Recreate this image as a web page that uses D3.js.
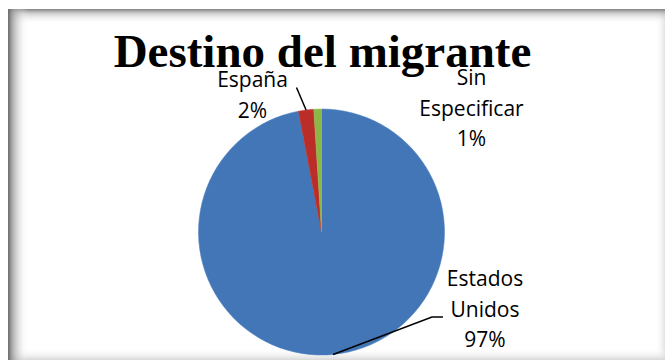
<!DOCTYPE html>
<html>
<head>
<meta charset="utf-8">
<script src="https://cdn.jsdelivr.net/npm/d3@7"></script>
<style>
  html, body { margin: 0; padding: 0; background: #ffffff; }
  svg { display: block; }
</style>
</head>
<body>
<svg id="chart" width="665" height="360"></svg>
<script>
// ---- data ----
const title = "Destino del migrante";
const categories = ["Estados Unidos", "España", "Sin Especificar"];
const values = [97, 2, 1];
const labelLines = [["Estados", "Unidos"], ["España"], ["Sin", "Especificar"]];
const colors = ["#4F8AD6", "#DC3530", "#A6D455"];

// ---- layout ----
const W = 665, H = 360;
const cx = 321.5, cy = 232, R = 123;
// label anchor (center x, first baseline y) per category
const labelPos = [[485, 286], [252.5, 87], [471.5, 85]];
const lineGap = 30.5;

const svg = d3.select("#chart");
const defs = svg.append("defs");

svg.append("rect").attr("x", 0).attr("y", 0).attr("width", W).attr("height", H).attr("fill", "#fff");

function lin(id, x1, y1, x2, y2, stops) {
  const g = defs.append("linearGradient").attr("id", id)
    .attr("x1", x1).attr("y1", y1).attr("x2", x2).attr("y2", y2);
  stops.forEach(s => g.append("stop").attr("offset", s[0]).attr("stop-color", s[1]).attr("stop-opacity", s[2]));
}
lin("gTop", 0, 0, 0, 1, [[0, "#808080", 1], [0.3, "#b0b0b0", 0.6], [1, "#ffffff", 0]]);
lin("gLeft", 0, 0, 1, 0, [[0, "#6a6a6a", 1], [0.25, "#9a9a9a", 0.75], [1, "#ffffff", 0]]);
lin("gRight", 1, 0, 0, 0, [[0, "#e2e2e2", 1], [1, "#ffffff", 0]]);
lin("gBottom", 0, 1, 0, 0, [[0, "#d8d8d8", 1], [1, "#ffffff", 0]]);

const fx0 = 8, fy0 = 9, fx1 = 665, fy1 = 360;
svg.append("rect").attr("x", fx1 - 10).attr("y", fy0).attr("width", 10).attr("height", fy1 - fy0).attr("fill", "url(#gRight)");
svg.append("rect").attr("x", fx0).attr("y", fy1 - 12).attr("width", fx1 - fx0).attr("height", 12).attr("fill", "url(#gBottom)");
svg.append("rect").attr("x", fx0).attr("y", fy0).attr("width", fx1 - fx0).attr("height", 15).attr("fill", "url(#gTop)");
svg.append("rect").attr("x", fx0).attr("y", fy0).attr("width", 20).attr("height", fy1 - fy0).attr("fill", "url(#gLeft)");

// title
svg.append("text")
  .attr("x", 322.5).attr("y", 67)
  .attr("text-anchor", "middle")
  .attr("font-family", "'Liberation Serif', 'Times New Roman', serif")
  .attr("font-weight", "bold")
  .attr("font-size", 47)
  .attr("fill", "#000")
  .text(title);

// pie
const pie = d3.pie().sort(null).value(d => d)(values);
const arc = d3.arc().innerRadius(0).outerRadius(R);

colors.forEach((c, i) => {
  const g = defs.append("radialGradient").attr("id", "rg" + i)
    .attr("gradientUnits", "userSpaceOnUse")
    .attr("cx", cx).attr("cy", cy).attr("r", R);
  const base = d3.color(c);
  g.append("stop").attr("offset", 0).attr("stop-color", base.darker(0.08));
  g.append("stop").attr("offset", 0.6).attr("stop-color", base);
  g.append("stop").attr("offset", 0.92).attr("stop-color", base.brighter(0.1));
  g.append("stop").attr("offset", 0.975).attr("stop-color", base.darker(0.15));
  g.append("stop").attr("offset", 1).attr("stop-color", base.darker(0.45));
});

const pg = svg.append("g").attr("transform", `translate(${cx},${cy})`);
pg.selectAll("path.slice").data(pie).enter().append("path")
  .attr("class", "slice")
  .attr("d", arc)
  .attr("fill", (d, i) => `url(#rg${i})`)
  .attr("stroke", (d, i) => d3.color(colors[i]).darker(0.3))
  .attr("stroke-width", 0.5);

// labels
const fontLab = "'Open Sans', 'Noto Sans', sans-serif";
labelLines.forEach((lines, i) => {
  const [lx, ly] = labelPos[i];
  const allLines = lines.concat([values[i] + "%"]);
  const t = svg.append("text")
    .attr("text-anchor", "middle")
    .attr("font-family", fontLab)
    .attr("font-size", 21)
    .attr("fill", "#000");
  allLines.forEach((s, k) => {
    t.append("tspan").attr("x", lx).attr("y", ly + k * lineGap).text(s);
  });
});

// leader lines (from slice edge mid-angle)
function edgePoint(d) {
  const a = (d.startAngle + d.endAngle) / 2;
  return [cx + R * Math.sin(a), cy - R * Math.cos(a)];
}
const line = d3.line();
{
  const p = edgePoint(pie[0]);
  svg.append("path").attr("d", line([p, [432, 317], [443, 317]]))
    .attr("fill", "none").attr("stroke", "#000").attr("stroke-width", 1.5);
}
{
  const p = edgePoint(pie[1]);
  svg.append("path").attr("d", line([[296.5, 87.5], p]))
    .attr("fill", "none").attr("stroke", "#000").attr("stroke-width", 1.5);
}
</script>
</body>
</html>
